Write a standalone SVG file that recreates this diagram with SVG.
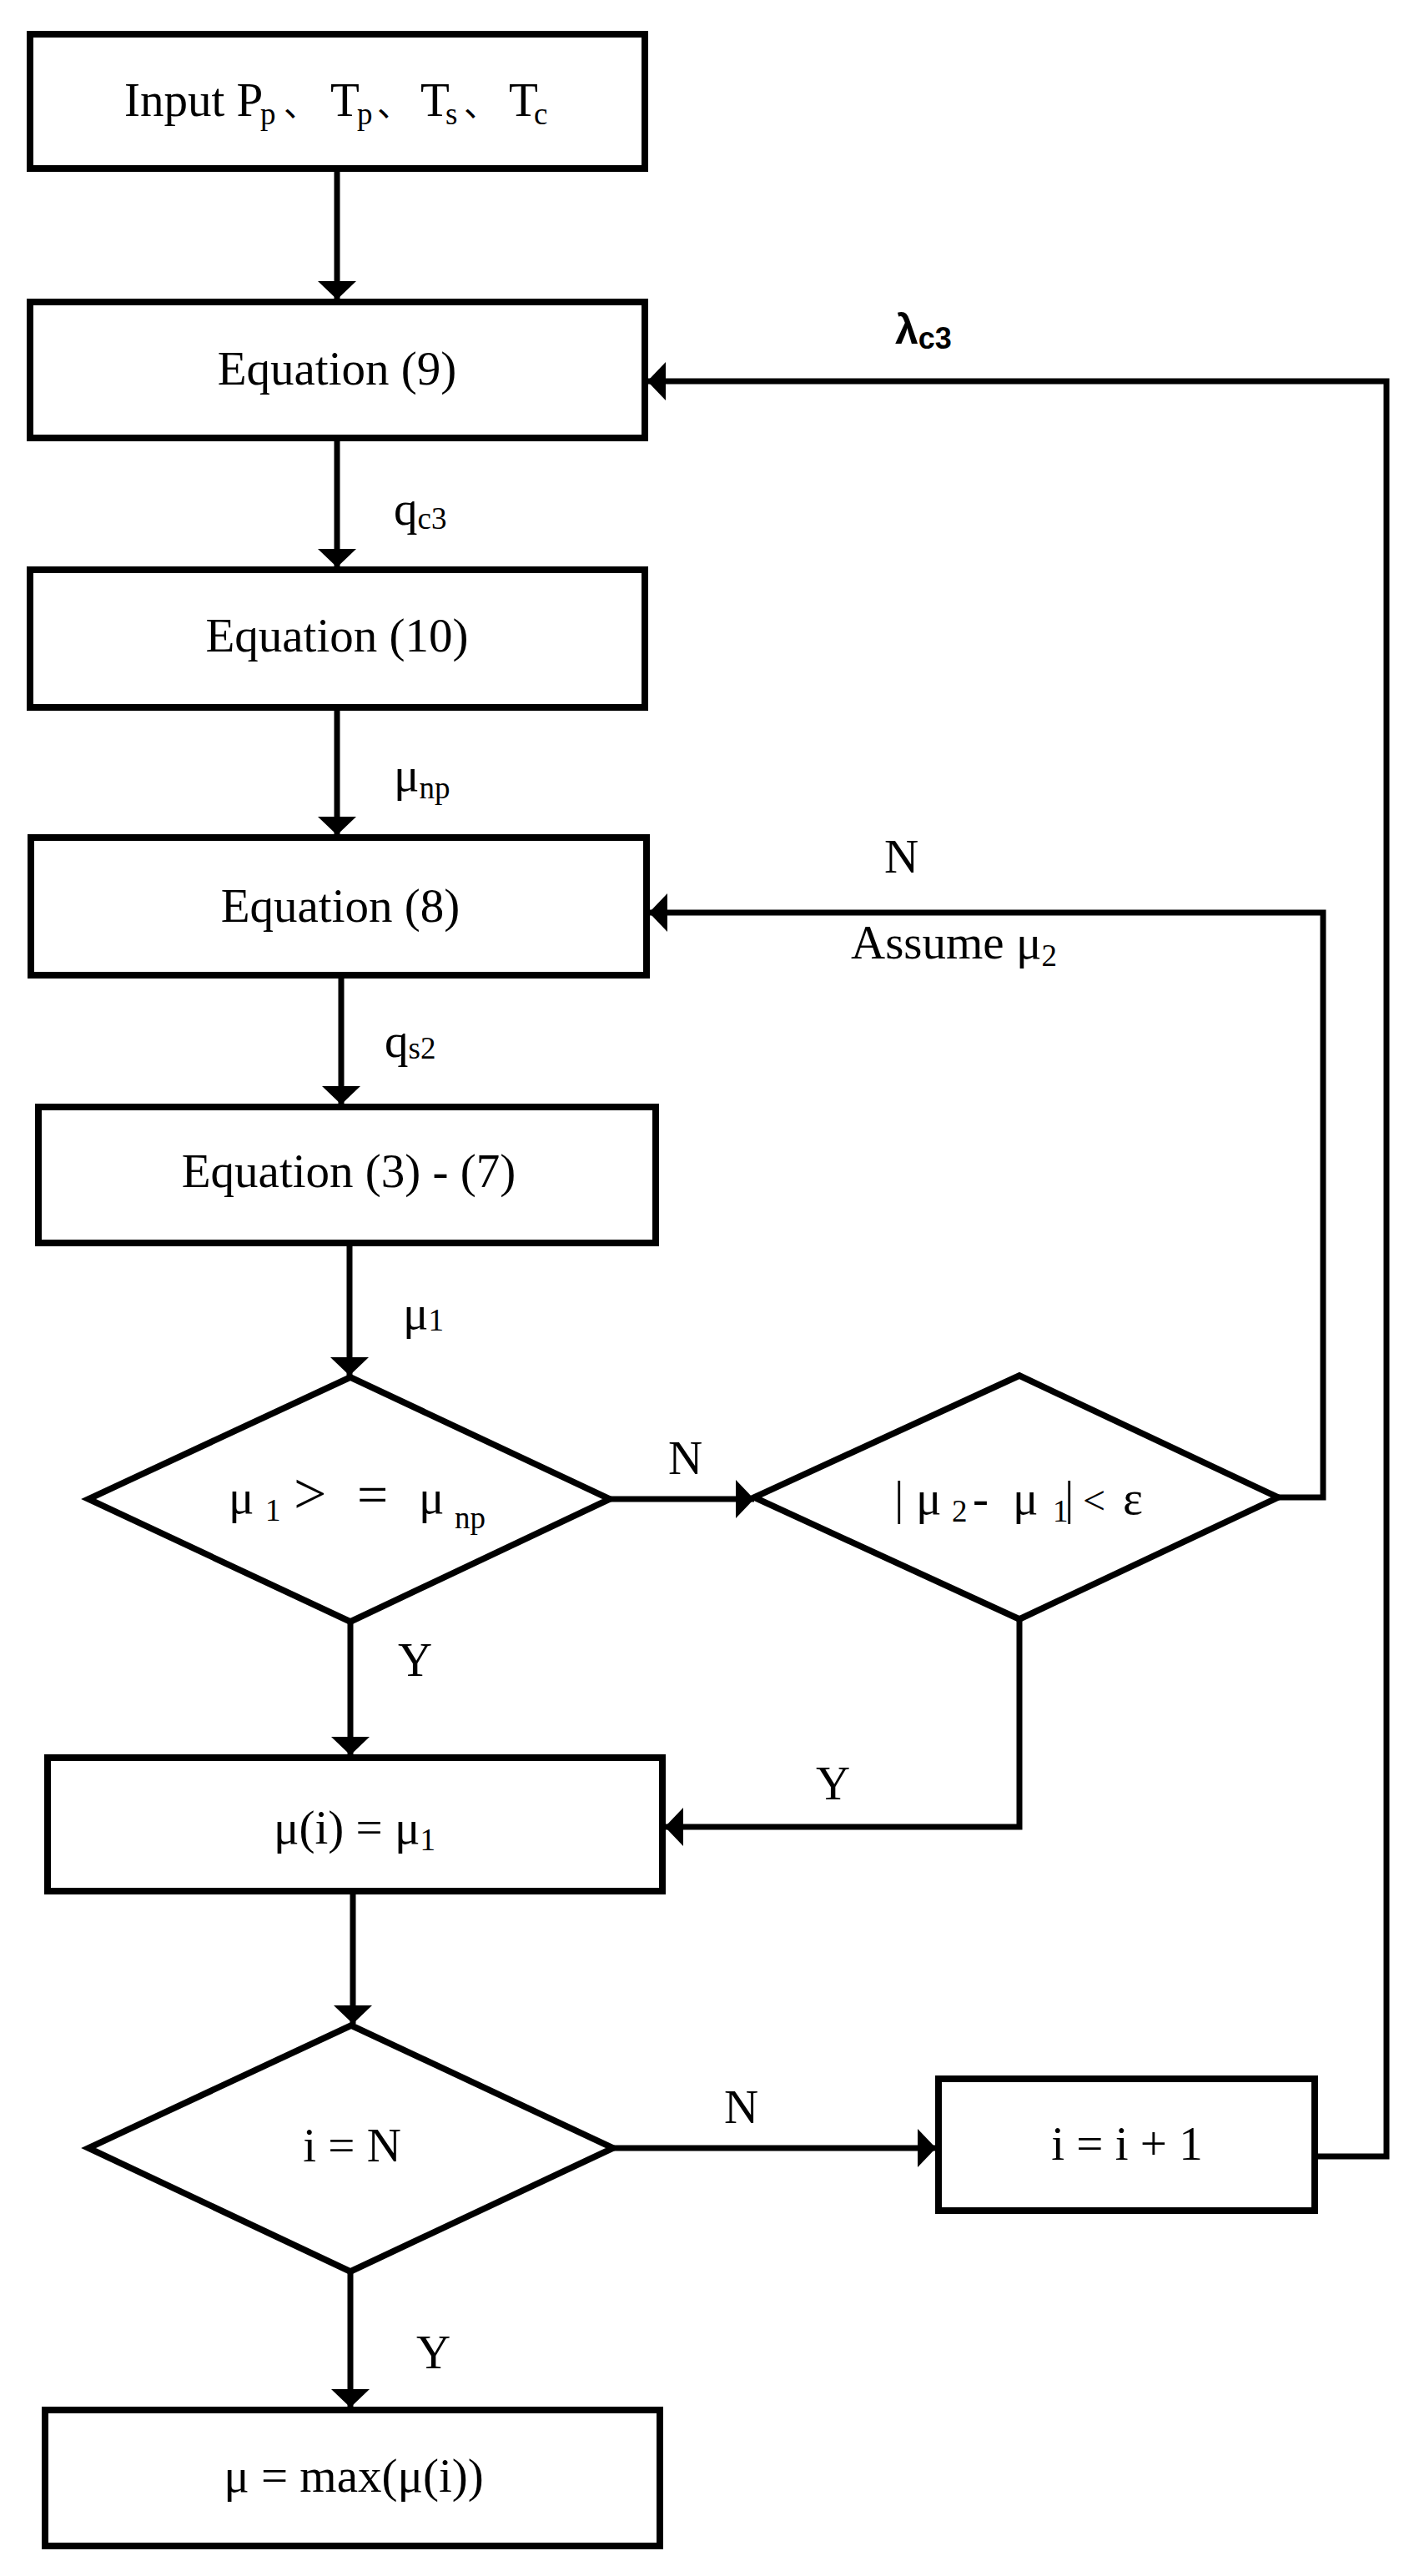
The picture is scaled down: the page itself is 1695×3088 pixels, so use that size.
<svg xmlns="http://www.w3.org/2000/svg" width="1695" height="3088" viewBox="0 0 1695 3088">
<defs>
<style>
.node{fill:#fff;stroke:#000;stroke-width:8}
.dia{fill:#fff;stroke:#000;stroke-width:7.5;stroke-linejoin:miter;stroke-miterlimit:20}
.edge{fill:none;stroke:#000;stroke-width:7}
.t{font-family:"Liberation Serif","Times New Roman","Noto Sans CJK SC",serif;font-size:57px;fill:#000}
.c{text-anchor:middle}
.s{font-size:37px}
.lam{font-family:"Liberation Sans",Arial,sans-serif;font-weight:bold;font-size:50px;fill:#000}
</style>
<marker id="ah" markerUnits="userSpaceOnUse" markerWidth="24" markerHeight="46" refX="22" refY="23" orient="auto"><path d="M0,0 L22,23 L0,46 Z" fill="#000"/></marker>
</defs>
<rect width="1695" height="3088" fill="#fff"/>

<g id="nodes">
<g id="n-input">
<rect class="node" x="36" y="41" width="737" height="161"/>
<text class="t" y="139"><tspan x="149">Input P</tspan><tspan x="312" y="149" class="s">p</tspan><tspan x="340" y="139" font-family="Noto Sans CJK SC, sans-serif" font-size="40">、</tspan><tspan x="396" y="139">T</tspan><tspan x="428" y="149" class="s">p</tspan><tspan x="452" y="139" font-family="Noto Sans CJK SC, sans-serif" font-size="40">、</tspan><tspan x="504" y="139">T</tspan><tspan x="534" y="149" class="s">s</tspan><tspan x="556" y="139" font-family="Noto Sans CJK SC, sans-serif" font-size="40">、</tspan><tspan x="610" y="139">T</tspan><tspan x="640" y="149" class="s">c</tspan></text>
</g>
<g id="n-eq9">
<rect class="node" x="36" y="362" width="737" height="163"/>
<text class="t c" x="404" y="461">Equation (9)</text>
</g>
<g id="n-eq10">
<rect class="node" x="36" y="683" width="737" height="165"/>
<text class="t c" x="404" y="781">Equation (10)</text>
</g>
<g id="n-eq8">
<rect class="node" x="37" y="1004" width="738" height="165"/>
<text class="t c" x="408" y="1105">Equation (8)</text>
</g>
<g id="n-eq37">
<rect class="node" x="46" y="1327" width="740" height="163"/>
<text class="t c" x="418" y="1423">Equation (3) - (7)</text>
</g>
<g id="n-d1">
<polygon class="dia" points="420,1651 731,1797 420,1944 106,1797"/>
<text class="t" y="1814"><tspan x="274">μ</tspan><tspan x="318" y="1823" class="s">1</tspan><tspan x="352" y="1814" font-size="70">&gt;</tspan><tspan x="428" y="1814" font-size="66">=</tspan><tspan x="502" y="1814">μ</tspan><tspan x="545" y="1832" class="s">np</tspan></text>
</g>
<g id="n-d2">
<polygon class="dia" points="1222,1649 1532,1795 1222,1941 904,1795"/>
<text class="t" y="1815"><tspan x="1072">|</tspan><tspan x="1098">μ</tspan><tspan x="1141" y="1824" class="s">2</tspan><tspan x="1166" y="1815">-</tspan><tspan x="1214">μ</tspan><tspan x="1262" y="1824" class="s">1</tspan><tspan x="1276" y="1815">|</tspan><tspan x="1298" font-size="48">&lt;</tspan><tspan x="1346">ε</tspan></text>
</g>
<g id="n-mui">
<rect class="node" x="57" y="2107" width="737" height="160"/>
<text class="t c" x="425" y="2210">μ(i) = μ<tspan class="s" dy="8">1</tspan></text>
</g>
<g id="n-d3">
<polygon class="dia" points="421,2428 735,2575 420,2723 106,2575"/>
<text class="t c" x="422" y="2591">i = N</text>
</g>
<g id="n-inc">
<rect class="node" x="1125" y="2492" width="451" height="158"/>
<text class="t c" x="1351" y="2589">i = i + 1</text>
</g>
<g id="n-max">
<rect class="node" x="54" y="2889" width="737" height="163"/>
<text class="t c" x="424" y="2987">μ = max(μ(i))</text>
</g>
</g>

<g id="connectors">
<line class="edge" x1="404" y1="204" x2="404" y2="359" marker-end="url(#ah)"/>
<line class="edge" x1="404" y1="527" x2="404" y2="680" marker-end="url(#ah)"/>
<line class="edge" x1="404" y1="850" x2="404" y2="1001" marker-end="url(#ah)"/>
<line class="edge" x1="409" y1="1171" x2="409" y2="1324" marker-end="url(#ah)"/>
<line class="edge" x1="419" y1="1492" x2="419" y2="1649" marker-end="url(#ah)"/>
<line class="edge" x1="731" y1="1797" x2="904" y2="1797" marker-end="url(#ah)"/>
<polyline class="edge" points="1532,1795 1586,1795 1586,1094 778,1094" marker-end="url(#ah)"/>
<line class="edge" x1="420" y1="1944" x2="420" y2="2104" marker-end="url(#ah)"/>
<polyline class="edge" points="1222,1941 1222,2190 797,2190" marker-end="url(#ah)"/>
<line class="edge" x1="423" y1="2269" x2="423" y2="2426" marker-end="url(#ah)"/>
<line class="edge" x1="735" y1="2575" x2="1122" y2="2575" marker-end="url(#ah)"/>
<polyline class="edge" points="1579,2585 1662,2585 1662,457 776,457" marker-end="url(#ah)"/>
<line class="edge" x1="420" y1="2723" x2="420" y2="2886" marker-end="url(#ah)"/>
</g>

<g id="labels">
<text class="lam" x="1073" y="412">λ<tspan font-size="36" dy="6">c3</tspan></text>
<text class="t" x="472" y="629" font-size="54">q<tspan class="s" dy="5">c3</tspan></text>
<text class="t" x="472" y="948" font-size="54">μ<tspan class="s" dy="9">np</tspan></text>
<text class="t" x="461" y="1267" font-size="54">q<tspan class="s" dy="2">s2</tspan></text>
<text class="t" x="483" y="1593" font-size="54">μ<tspan class="s" dy="2">1</tspan></text>
<text class="t" x="1060" y="1046" font-size="54">N</text>
<text class="t" x="1020" y="1149" font-size="54">Assume μ<tspan class="s" dy="9">2</tspan></text>
<text class="t" x="801" y="1767" font-size="54">N</text>
<text class="t" x="477" y="2009" font-size="54">Y</text>
<text class="t" x="978" y="2157" font-size="54">Y</text>
<text class="t" x="868" y="2545" font-size="54">N</text>
<text class="t" x="499" y="2839" font-size="54">Y</text>
</g>
</svg>
